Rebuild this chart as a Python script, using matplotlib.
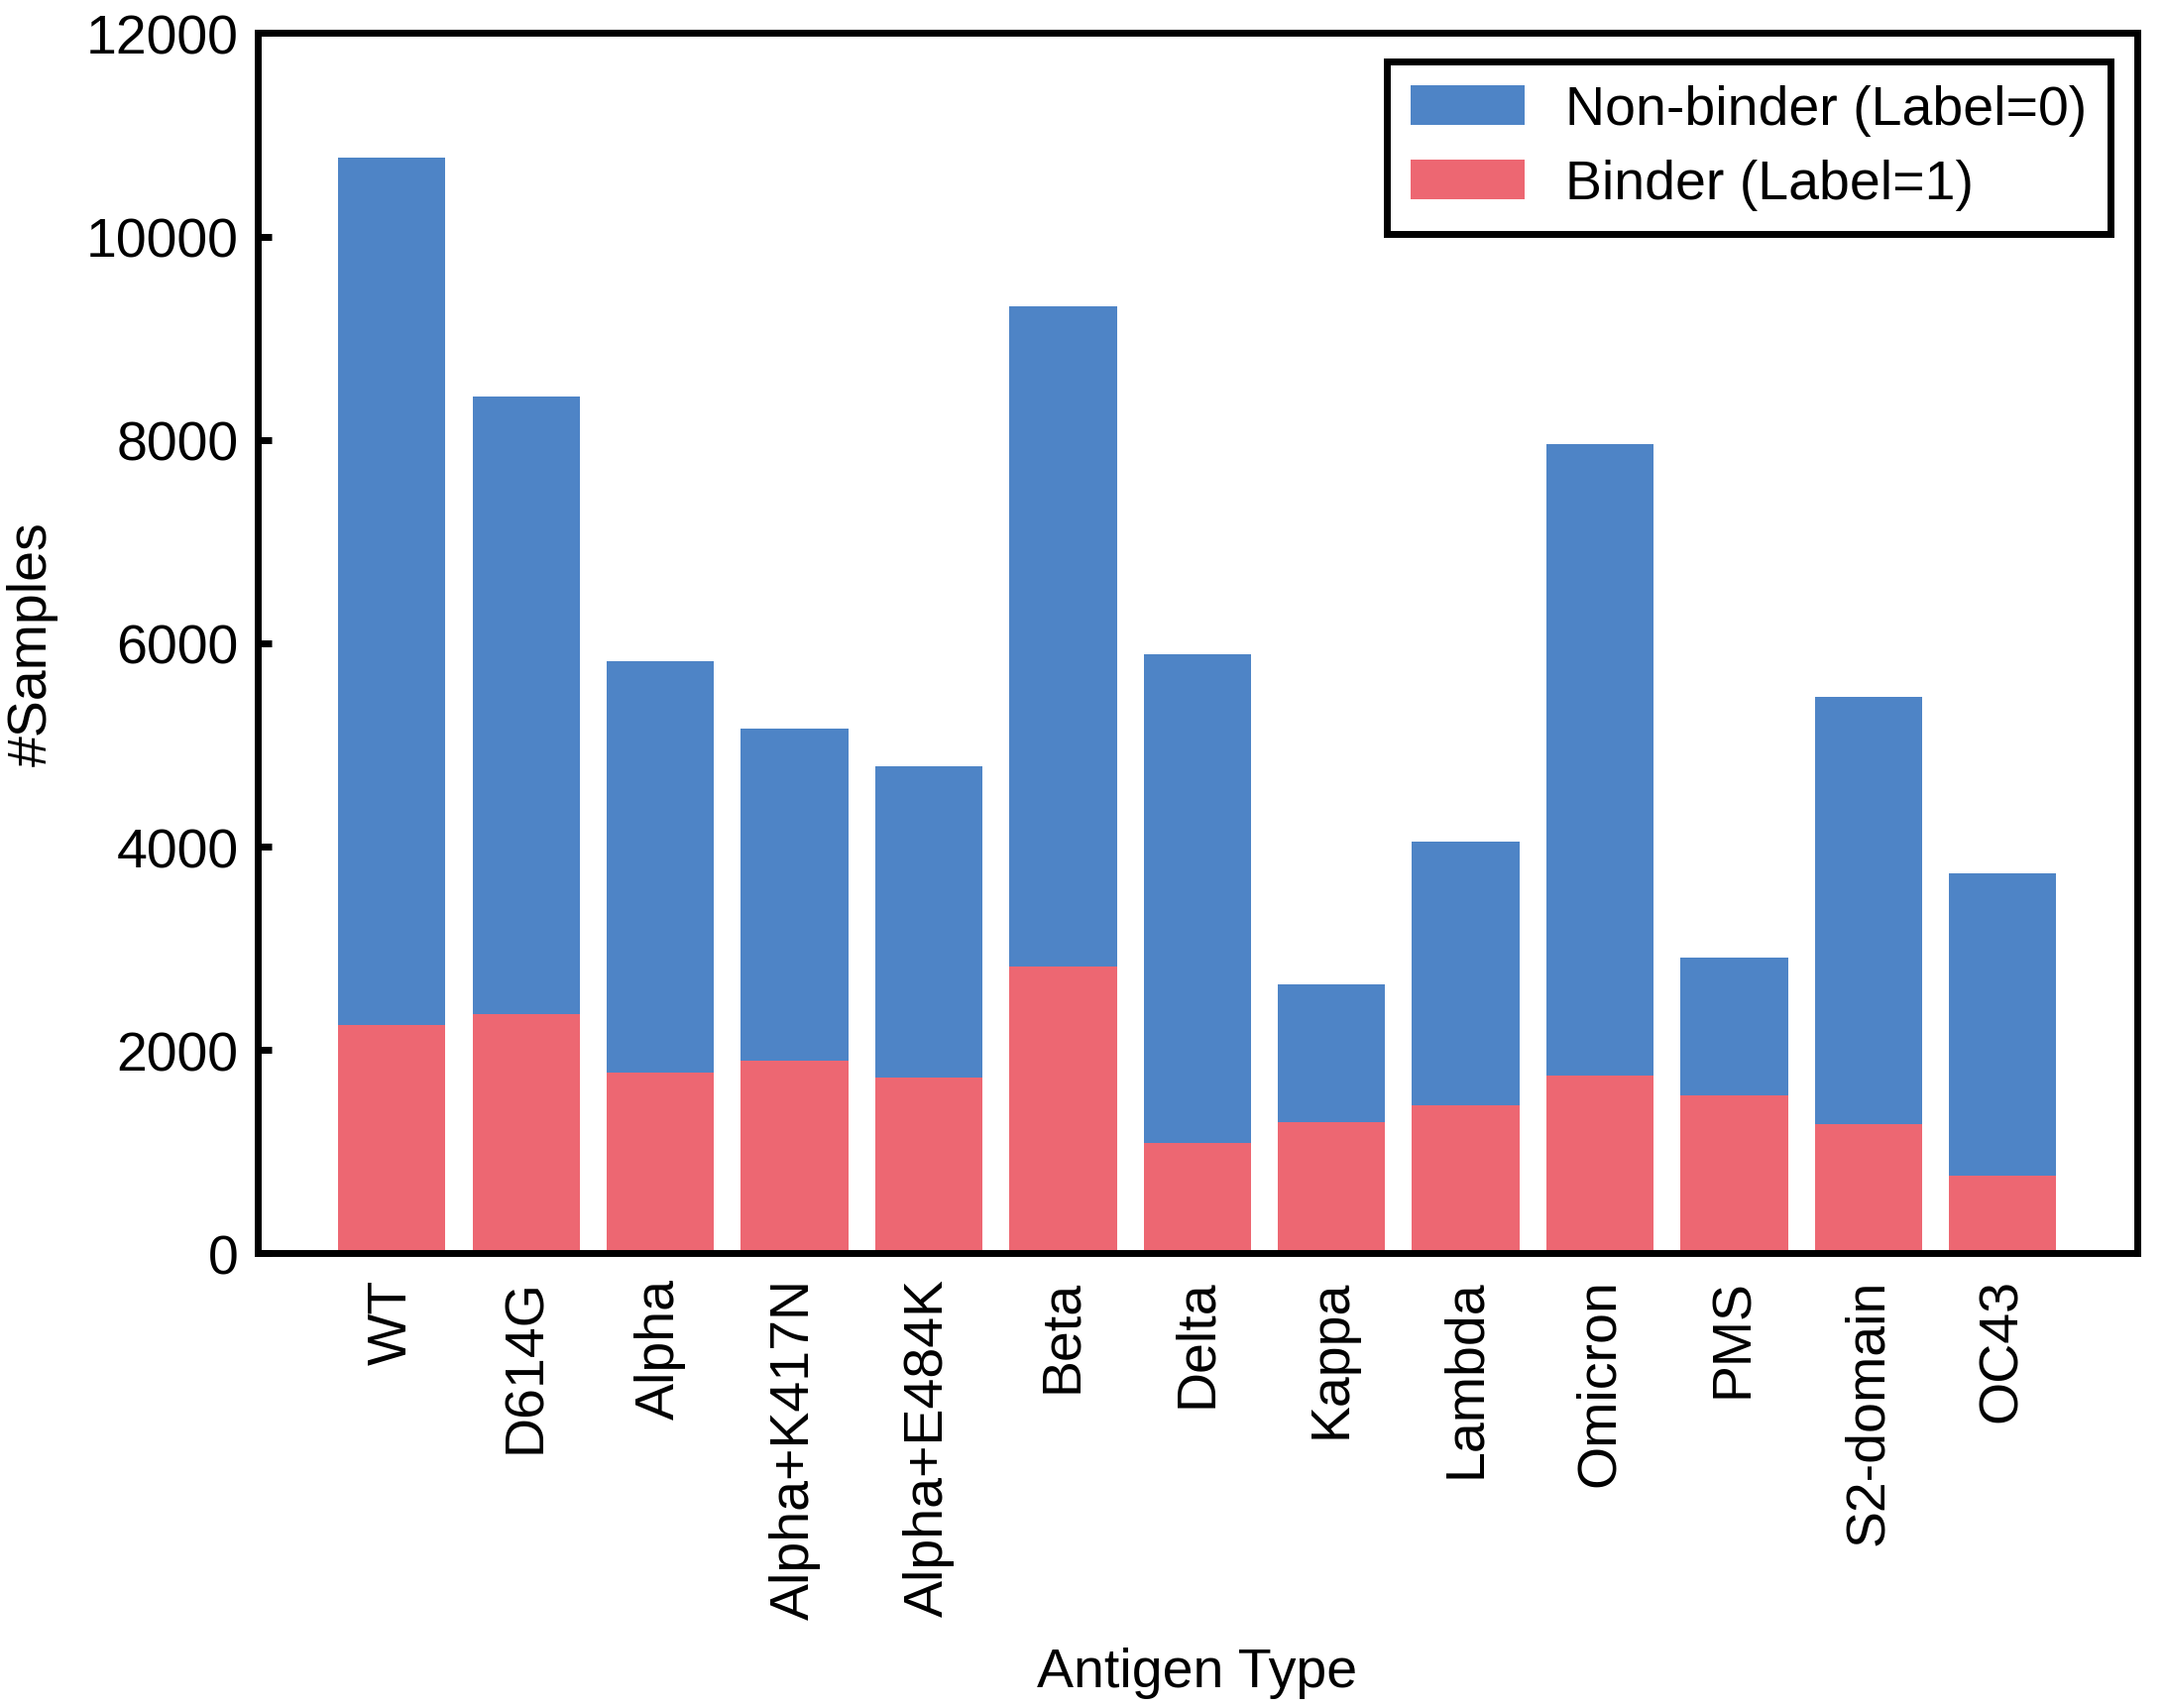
import numpy as np
import matplotlib
matplotlib.use('Agg')
import matplotlib.pyplot as plt

plt.rcParams['font.family'] = ['Liberation Sans', 'DejaVu Sans']

antigens = ['WT', 'D614G', 'Alpha', 'Alpha+K417N', 'Alpha+E484K', 'Beta', 'Delta',
            'Kappa', 'Lambda', 'Omicron', 'PMS', 'S2-domain', 'OC43']
binder = [2250, 2350, 1780, 1900, 1725, 2825, 1085, 1290, 1455, 1750, 1550, 1275, 760]
non_binder = [8530, 6080, 4045, 3260, 3070, 6490, 4810, 1360, 2590, 6205, 1355, 4195, 2975]
yticks = [0, 2000, 4000, 6000, 8000, 10000, 12000]

blue = '#4E84C6'
red = '#ED6772'
fs = 20

fig = plt.figure(figsize=(10.92, 8.62), dpi=200)
ax = fig.add_axes([0.119, 0.266, 0.868, 0.714])

x = np.arange(len(antigens))
ax.bar(x, non_binder, width=0.8, bottom=binder, color=blue, label='Non-binder (Label=0)')
ax.bar(x, binder, width=0.8, color=red, label='Binder (Label=1)')

ax.set_xlim(-1, len(antigens))
ax.set_ylim(0, 12000)
ax.set_yticks(yticks)
ax.set_xticks(x)
ax.set_xticklabels(antigens, rotation=90, fontsize=fs)
ax.tick_params(axis='y', direction='in', length=5, width=2.5, labelsize=fs, pad=7)
ax.tick_params(axis='x', length=0, pad=9)
for s in ax.spines.values():
    s.set_linewidth(2.5)

ax.set_xlabel('Antigen Type', fontsize=fs, labelpad=10)
ax.set_ylabel('#Samples', fontsize=fs, labelpad=10)

leg = ax.legend(loc='upper right', fontsize=fs, fancybox=False, edgecolor='black',
                framealpha=1, handlelength=2.07, handleheight=0.72, handletextpad=0.75,
                borderpad=0.42, labelspacing=0.42, bbox_to_anchor=(0.986, 0.977),
                borderaxespad=0)
leg.get_frame().set_linewidth(2.5)

fig.savefig('out.png', dpi=200)
